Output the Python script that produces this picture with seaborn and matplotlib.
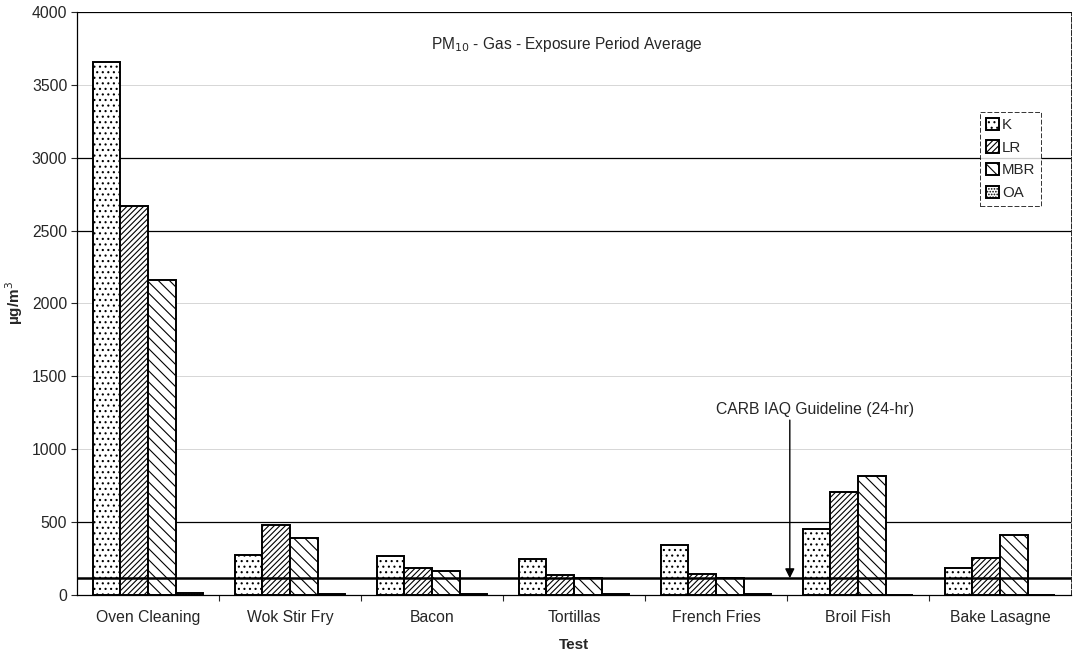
import numpy as np
import pandas as pd
import matplotlib
matplotlib.use("Agg")
import matplotlib.pyplot as plt
import seaborn as sns

# PM10 concentrations (ug/m3) per cooking test and room location
tests = ["Oven Cleaning", "Wok Stir Fry", "Bacon", "Tortillas",
         "French Fries", "Broil Fish", "Bake Lasagne"]
series = ["K", "LR", "MBR", "OA"]
k_vals = [3660, 275, 265, 245, 345, 450, 185]
lr_vals = [2670, 478, 186, 137, 146, 710, 252]
mbr_vals = [2160, 392, 167, 117, 115, 815, 412]
oa_vals = [12, 6, 5, 6, 6, 0, 0]
guideline = 115
y_ticks = [0, 500, 1000, 1500, 2000, 2500, 3000, 3500, 4000]

df = pd.DataFrame({
    "Test": np.repeat(tests, len(series)),
    "Series": series * len(tests),
    "Value": np.column_stack([k_vals, lr_vals, mbr_vals, oa_vals]).ravel(),
})

sns.set_style("white")
plt.rcParams["font.family"] = ["Liberation Sans", "DejaVu Sans"]
plt.rcParams["hatch.linewidth"] = 0.8

fig = plt.figure(figsize=(10.76, 6.56), dpi=100)
ax = fig.add_axes([0.0716, 0.093, 0.9237, 0.8887])

# grid lines beneath the bars
for yv in y_ticks[1:]:
    strong = yv in (500, 2500, 3000, 4000)
    ax.axhline(yv, color="black" if strong else "#d0d0d0",
               lw=0.9 if strong else 0.6, zorder=0)

sns.barplot(data=df, x="Test", y="Value", hue="Series", order=tests,
            hue_order=series, palette=["white"] * 4, edgecolor="black",
            linewidth=1.4, width=0.78, saturation=1, ax=ax, zorder=2)

hatches = ["...", "//////", "\\\\\\", "......"]
for cont, h in zip(ax.containers, hatches):
    for p in cont.patches:
        p.set_hatch(h)
        p.set_edgecolor("black")

# guideline across the chart, with a vertical arrow pointing at it
ax.axhline(guideline, color="black", lw=1.8, zorder=5)
arrow_x = 4.52
ax.annotate("", xy=(arrow_x, guideline), xytext=(arrow_x, 1200),
            arrowprops=dict(arrowstyle="-|>", color="black", lw=1.0,
                            mutation_scale=14, shrinkA=0, shrinkB=0))
ax.text(4.0, 1275, "CARB IAQ Guideline (24-hr)", fontsize=11.3,
        ha="left", va="center")

ax.text(0.493, 0.944, "PM$_{10}$ - Gas - Exposure Period Average",
        transform=ax.transAxes, ha="center", va="center", fontsize=11.2)

ax.set_ylim(0, 4000)
ax.set_xlim(-0.5, len(tests) - 0.5)
ax.set_yticks(y_ticks)
ax.set_yticklabels([str(v) for v in y_ticks], fontsize=11.3)
ax.set_xticks(range(len(tests)))
ax.set_xticklabels(tests, fontsize=11.3)
ax.set_xticks(np.arange(0.5, len(tests) - 0.5, 1), minor=True)
ax.tick_params(axis="x", which="major", length=0, pad=11)
ax.tick_params(axis="x", which="minor", length=4, width=0.8, direction="out",
               bottom=True)
ax.tick_params(axis="y", length=4, width=0.8, direction="out", left=True, pad=3)

ax.set_xlabel("Test", fontsize=11, fontweight="bold", labelpad=9)
ax.set_ylabel("µg/m$^3$", fontsize=11, fontweight="bold", labelpad=5)

for side, sp in ax.spines.items():
    sp.set_visible(True)
    sp.set_color("black")
    sp.set_linewidth(0.9 if side in ("left", "bottom") else 0.6)
ax.spines["right"].set_linestyle((0, (6, 2)))

leg = ax.legend(ax.containers, series, loc="upper left",
                bbox_to_anchor=(0.908, 0.829), fontsize=10.8, frameon=True,
                fancybox=False, handlelength=0.9, handleheight=0.9,
                handletextpad=0.2, borderpad=0.4, labelspacing=0.55,
                borderaxespad=0)
leg.get_frame().set_edgecolor("black")
leg.get_frame().set_linewidth(0.7)
leg.get_frame().set_linestyle((0, (5, 2)))

fig.savefig("out.png", dpi=100)
